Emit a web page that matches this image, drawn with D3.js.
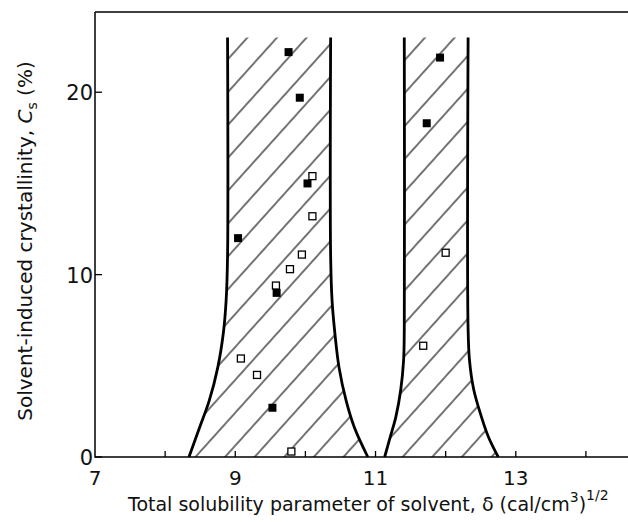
<!DOCTYPE html>
<html>
<head>
<meta charset="utf-8">
<script src="https://cdn.jsdelivr.net/npm/d3@7"></script>
<style>
    body { margin: 0; background: #fff; }
    text { font-family: "DejaVu Sans", sans-serif; fill: #111; }
</style>
</head>
<body>
<div id="chart"></div>
<script>
// Solubility parameter (x) and crystallinity (y) of the measured solvents
var filledX = [9.76, 9.92, 10.03, 9.04, 9.59, 9.53, 11.92, 11.73];
var filledY = [22.2, 19.7, 15.0, 12.0, 9.0, 2.7, 21.9, 18.3];
var openX = [10.10, 10.10, 9.95, 9.78, 9.58, 9.08, 9.31, 9.80, 12.00, 11.68];
var openY = [15.4, 13.2, 11.1, 10.3, 9.4, 5.4, 4.5, 0.3, 11.2, 6.1];

// Hatched bands: crystallinity levels with left / right solubility limits
var band1Cs = [23.0, 11.0, 8.6, 6.8, 4.9, 3.1, 1.6, 0];
var band1Left = [8.89, 8.89, 8.87, 8.83, 8.75, 8.63, 8.49, 8.34];
var band1Right = [10.36, 10.36, 10.38, 10.42, 10.48, 10.58, 10.70, 10.89];
var band2Cs = [23.0, 7.0, 5.3, 3.7, 2.2, 1.1, 0];
var band2Left = [11.41, 11.41, 11.40, 11.36, 11.29, 11.21, 11.13];
var band2Right = [12.32, 12.32, 12.34, 12.40, 12.51, 12.61, 12.75];

var xTicks = [8, 9, 10, 11, 12, 13, 14];
var xTickLabels = [7, 9, 11, 13];
var yTicks = [0, 10, 20];

var width = 628, height = 522;

var svg = d3.select("#chart")
    .append("svg")
    .attr("width", width)
    .attr("height", height);

var x = d3.scaleLinear().domain([7, 14.6]).range([95, 628]);
var y = d3.scaleLinear().domain([0, 24.4]).range([457, 12]);

// Hatch pattern
svg.append("defs")
    .append("pattern")
    .attr("id", "hatch")
    .attr("patternUnits", "userSpaceOnUse")
    .attr("width", 22)
    .attr("height", 22)
    .attr("patternTransform", "rotate(42)")
    .append("line")
    .attr("x1", 11).attr("y1", -1)
    .attr("x2", 11).attr("y2", 23)
    .attr("stroke", "#000")
    .attr("stroke-width", 1.1);

var bands = [
    { cs: band1Cs, left: band1Left, right: band1Right },
    { cs: band2Cs, left: band2Left, right: band2Right }
];

var curve = d3.curveCatmullRom.alpha(0.5);

bands.forEach(function(b) {
    var pts = b.cs.map(function(c, i) { return { c: c, l: b.left[i], r: b.right[i] }; });

    var area = d3.area()
        .y(function(d) { return y(d.c); })
        .x0(function(d) { return x(d.l); })
        .x1(function(d) { return x(d.r); })
        .curve(curve);

    svg.append("path")
        .datum(pts)
        .attr("d", area)
        .attr("fill", "url(#hatch)");

    ["l", "r"].forEach(function(k) {
        var line = d3.line()
            .x(function(d) { return x(d[k]); })
            .y(function(d) { return y(d.c); })
            .curve(curve);
        svg.append("path")
            .datum(pts)
            .attr("d", line)
            .attr("fill", "none")
            .attr("stroke", "#000")
            .attr("stroke-width", 2.8);
    });
});

// Frame: left axis, bottom axis, top line
svg.append("path")
    .attr("d", "M" + x(7) + "," + y(24.4) + "H" + width + "M" + x(7) + "," + y(24.4) + "V" + y(0) + "H" + width)
    .attr("fill", "none")
    .attr("stroke", "#000")
    .attr("stroke-width", 1.5);

// Ticks (pointing inward)
svg.selectAll(".xtick")
    .data(xTicks)
    .enter()
    .append("line")
    .attr("x1", function(d) { return x(d); })
    .attr("x2", function(d) { return x(d); })
    .attr("y1", y(0))
    .attr("y2", y(0) - 6)
    .attr("stroke", "#000")
    .attr("stroke-width", 1.3);

svg.selectAll(".ytick")
    .data(yTicks)
    .enter()
    .append("line")
    .attr("x1", x(7))
    .attr("x2", x(7) + 7)
    .attr("y1", function(d) { return y(d); })
    .attr("y2", function(d) { return y(d); })
    .attr("stroke", "#000")
    .attr("stroke-width", 1.3);

svg.selectAll(".xlabel")
    .data(xTickLabels)
    .enter()
    .append("text")
    .attr("x", function(d) { return x(d); })
    .attr("y", 485)
    .attr("text-anchor", "middle")
    .style("font-size", "20px")
    .text(function(d) { return d; });

svg.selectAll(".ylabel")
    .data(yTicks)
    .enter()
    .append("text")
    .attr("x", x(7) - 2)
    .attr("y", function(d) { return y(d) + 8; })
    .attr("text-anchor", "end")
    .style("font-size", "21px")
    .text(function(d) { return d; });

// Data markers
var s = 7;
svg.selectAll(".open")
    .data(openX)
    .enter()
    .append("rect")
    .attr("x", function(d) { return x(d) - s / 2; })
    .attr("y", function(d, i) { return y(openY[i]) - s / 2; })
    .attr("width", s)
    .attr("height", s)
    .attr("fill", "#fff")
    .attr("stroke", "#000")
    .attr("stroke-width", 1.3);

svg.selectAll(".filled")
    .data(filledX)
    .enter()
    .append("rect")
    .attr("x", function(d) { return x(d) - s / 2 - 0.5; })
    .attr("y", function(d, i) { return y(filledY[i]) - s / 2 - 0.5; })
    .attr("width", s + 1)
    .attr("height", s + 1)
    .attr("fill", "#000");

// Axis titles
var xt = svg.append("text")
    .attr("x", 128)
    .attr("y", 511)
    .style("font-size", "19px");
xt.append("tspan").text("Total solubility parameter of solvent, δ (cal/cm");
xt.append("tspan").attr("dy", -9).style("font-size", "14px").text("3");
xt.append("tspan").attr("dy", 9).text(")");
xt.append("tspan").attr("dy", -11).style("font-size", "14px").text("1/2");

var yt = svg.append("text")
    .attr("transform", "translate(32,241) rotate(-90)")
    .attr("text-anchor", "middle")
    .style("font-size", "20px");
yt.append("tspan").text("Solvent-induced crystallinity, ");
yt.append("tspan").style("font-style", "italic").text("C");
yt.append("tspan").attr("dy", 5).style("font-size", "14px").text("s");
yt.append("tspan").attr("dy", -5).text(" (%)");
</script>
</body>
</html>
